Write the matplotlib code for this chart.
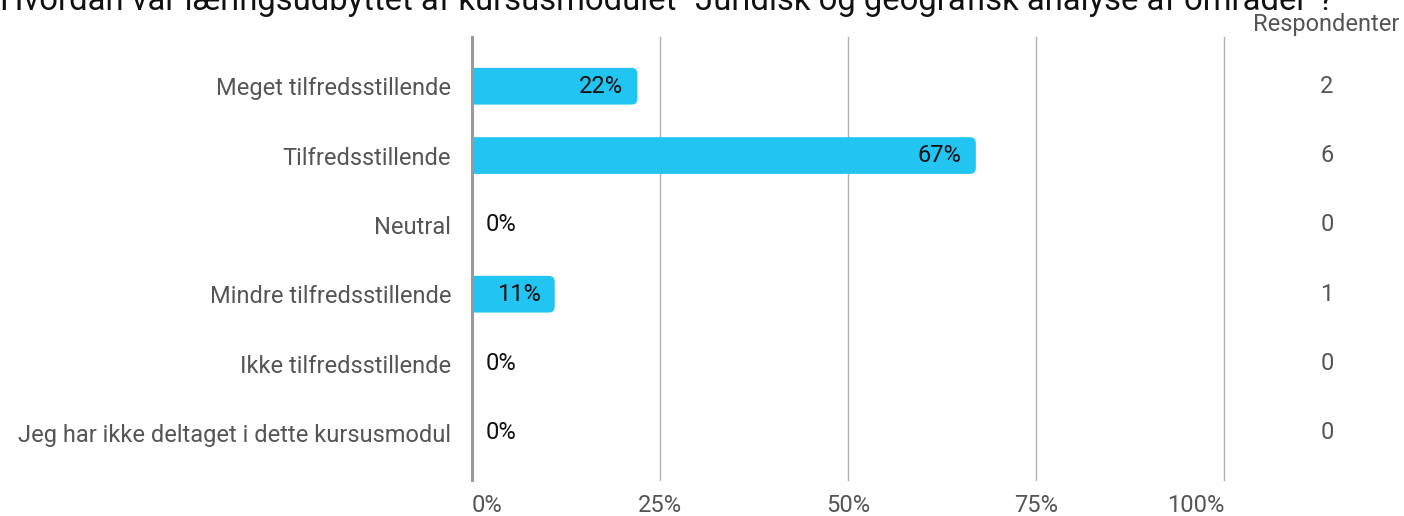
import matplotlib
matplotlib.use("Agg")
import matplotlib.pyplot as plt
from matplotlib.patches import FancyBboxPatch

plt.rcParams['font.family'] = ['Roboto', 'DejaVu Sans']

title = 'Hvordan var læringsudbyttet af kursusmodulet "Juridisk og geografisk analyse af områder"?'
categories = ["Meget tilfredsstillende", "Tilfredsstillende", "Neutral",
              "Mindre tilfredsstillende", "Ikke tilfredsstillende",
              "Jeg har ikke deltaget i dette kursusmodul"]
shares = [0.22, 0.67, 0.0, 0.11, 0.0, 0.0]
labels = ["22%", "67%", "0%", "11%", "0%", "0%"]
respondents = [2, 6, 0, 1, 0, 0]
xticks = [0, 0.25, 0.5, 0.75, 1.0]
xticklabels = ["0%", "25%", "50%", "75%", "100%"]

W, H = 1404, 516
FS = 17
fig = plt.figure(figsize=(W / 100, H / 100), dpi=100)
ax = fig.add_axes([472 / W, (H - 480) / H, 752 / W, 443 / H])
ax.set_xlim(0, 1)
ax.set_ylim(5.68, -0.71)

bar_color = "#22C4F2"
bh = 0.53
px_x = 1 / 752
px_y = 1 / 69.4
aspect = px_y / px_x
for i, v in enumerate(shares):
    if v > 0:
        r = 6 * px_x
        start = -0.03
        p = FancyBboxPatch((start, i - bh / 2), v - start, bh,
                           boxstyle=f"round,pad=0,rounding_size={r}",
                           mutation_aspect=aspect, facecolor=bar_color,
                           edgecolor="none", zorder=3)
        ax.add_patch(p)
        ax.text(v - 14 * px_x, i, labels[i], ha="right", va="center",
                fontsize=FS, color="#111111", zorder=4)
    else:
        ax.text(14 * px_x, i, labels[i], ha="left", va="center",
                fontsize=FS, color="#111111", zorder=4)
    ax.text(1.137, i, str(respondents[i]), ha="center", va="center",
            fontsize=FS, color="#555555", clip_on=False)

for x in xticks[1:]:
    ax.axvline(x, color="#b0b0b0", lw=1, zorder=1, clip_on=False)
ax.axvline(0, color="#9a9a9a", lw=2.2, zorder=5, clip_on=False)

for s in ax.spines.values():
    s.set_visible(False)
ax.set_yticks(range(len(categories)))
ax.set_yticklabels(categories, fontsize=FS, color="#555555")
ax.tick_params(axis="y", length=0, pad=15)
ax.set_xticks(xticks)
ax.set_xticklabels(xticklabels, fontsize=FS, color="#555555")
ax.tick_params(axis="x", length=0, pad=10)
tl = ax.get_xticklabels()
tl[0].set_horizontalalignment("left")
tl[0].set_x(-4 * px_x)
tl[-1].set_horizontalalignment("right")
tl[-1].set_x(1 + 4 * px_x)

fig.text(1326 / W, 1 - 25 / H, "Respondenter", ha="center", va="center",
         fontsize=FS, color="#555555")
fig.text(0, 1 - 10 / H, title, ha="left", va="baseline", fontsize=23.6, color="#111111")

fig.savefig("out.png", dpi=100)
